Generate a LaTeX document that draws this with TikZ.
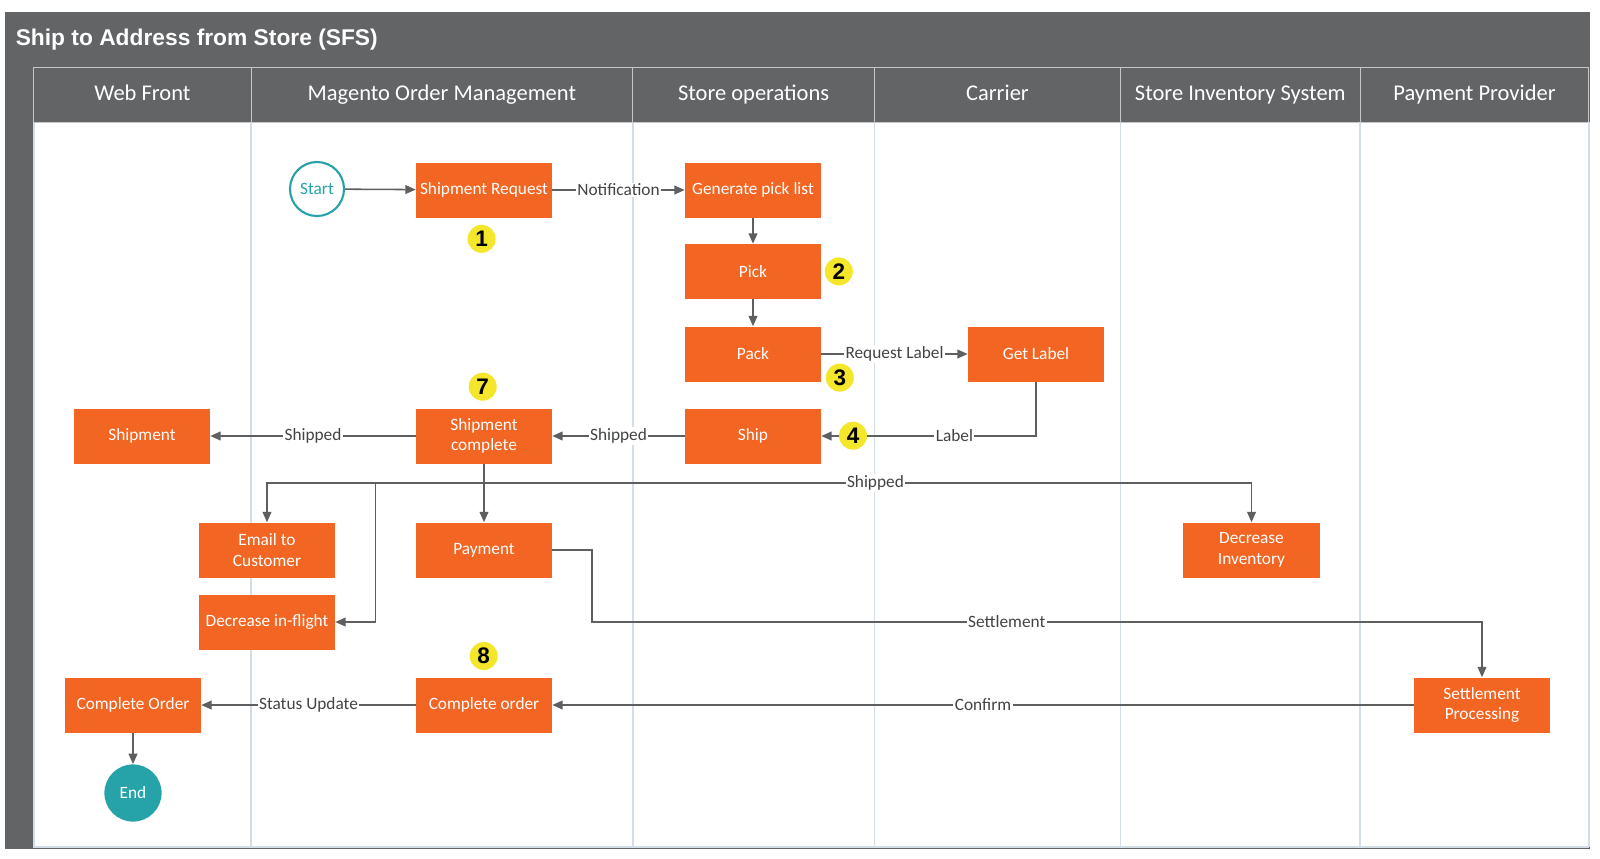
\documentclass[tikz,border=0pt]{standalone}
\usepackage{fontspec}
\setmainfont{Carlito}
\newfontfamily\titlefont{Liberation Sans}
\usetikzlibrary{arrows.meta}
\definecolor{frame}{HTML}{636466}
\definecolor{taskfill}{HTML}{F26522}
\definecolor{endteal}{HTML}{26A3A8}
\definecolor{badgefill}{HTML}{F4E62B}
\definecolor{wire}{HTML}{5E5F61}
\definecolor{lane}{HTML}{D3DEE8}
\begin{document}
\begin{tikzpicture}[x=0.025cm,y=-0.025cm,
  every node/.style={font=\fontsize{12.3}{14.5}\selectfont},
  task/.style={fill=taskfill,text=white,minimum width=3.4cm,minimum height=1.375cm,align=center,inner sep=2pt},
  flow/.style={draw=wire,line width=1.1pt,-{Triangle[length=2.6mm,width=2.2mm]}},
  lbl/.style={fill=white,text=wire!70!black,inner sep=1pt},
  badge/.style={circle,fill=badgefill,minimum size=0.7cm,inner sep=0pt,font=\titlefont\bfseries\fontsize{16}{16}\selectfont},
  lanehead/.style={text=white,anchor=base,font=\fontsize{16}{18}\selectfont}]
  \useasboundingbox (0,0) rectangle (1600,858);
  % pool and lanes
  \fill[frame] (5,12) rectangle (1590,849);
  \fill[white] (33.7,122.4) rectangle (1588.8,847);
  \node[anchor=base west,inner sep=0pt,text=white,font=\titlefont\bfseries\fontsize{16.2}{18}\selectfont] (title) at (15.5,45.5) {Ship to Address from Store (SFS)};
  \draw[lane,line width=1.2pt] (33.7,122.4) -- (33.7,847) -- (1588.8,847);
  \foreach \xa/\xb/\name [count=\i] in {33.7/251/Web Front, 251/632.7/Magento Order Management, 632.7/874.5/Store operations, 874.5/1120.4/Carrier, 1120.4/1360.2/Store Inventory System, 1360.2/1588.8/Payment Provider} {
    \draw[gray!45,line width=0.6pt] (\xa,67.3) rectangle (\xb,122.4);
    \draw[lane,line width=1.2pt] (\xb,122.4) -- (\xb,847);
    \node[lanehead] (head\i) at ({(\xa+\xb)/2},100) {\name};
  }
  % steps
  \node[circle,draw=endteal,line width=1.5pt,fill=white,text=endteal,minimum size=1.35cm,inner sep=0pt] (start) at (317,189) {Start};
  \node[task] (req) at (484,190) {Shipment Request};
  \node[task] (gen) at (753,190) {Generate pick list};
  \node[task] (pick) at (753,271.5) {Pick};
  \node[task] (pack) at (753,354) {Pack};
  \node[task] (getlbl) at (1036,354) {Get Label};
  \node[task] (ship) at (753,436) {Ship};
  \node[task] (done) at (484,436) {Shipment\\complete};
  \node[task] (shipment) at (142,436) {Shipment};
  \node[task] (email) at (267,550) {Email to\\Customer};
  \node[task] (pay) at (484,550) {Payment};
  \node[task] (inv) at (1251.5,550) {Decrease\\Inventory};
  \node[task] (flight) at (267,622) {Decrease in-flight};
  \node[task] (webdone) at (133,705) {Complete Order};
  \node[task] (order) at (484,705) {Complete order};
  \node[task] (settle) at (1482,705) {Settlement\\Processing};
  \node[circle,fill=endteal,text=white,minimum size=1.43cm,inner sep=0pt] (end) at (133,793) {End};
  % connectors
  \coordinate (fork) at (484,483);
  \coordinate (tap) at (375.5,483);
  \coordinate (bend) at (592,622);
  \draw[flow] (start) -- (req);
  \draw[flow] (req) -- node[lbl]{Notification} (gen);
  \draw[flow] (gen) -- (pick);
  \draw[flow] (pick) -- (pack);
  \draw[flow] (pack) -- node[lbl]{Request Label} (getlbl);
  \draw[flow] (getlbl) |- node[lbl,pos=0.69]{Label} (ship);
  \draw[flow] (ship) -- node[lbl]{Shipped} (done);
  \draw[flow] (done) -- node[lbl]{Shipped} (shipment);
  \draw[flow] (done) -- (fork) -| node[lbl,pos=0.255]{Shipped} (inv);
  \draw[flow] (fork) -| (email);
  \draw[flow] (fork) -- (pay);
  \draw[flow] (tap) |- (flight);
  \draw[flow] (pay) -| (bend) -| node[lbl,pos=0.233]{Settlement} (settle);
  \draw[flow] (settle) -- node[lbl]{Confirm} (order);
  \draw[flow] (order) -- node[lbl]{Status Update} (webdone);
  \draw[flow] (webdone) -- (end);
  % step numbers
  \node[badge] (b1) at (481.6,238.8) {1};
  \node[badge] (b2) at (838.8,271.4) {2};
  \node[badge] (b3) at (839.8,377.6) {3};
  \node[badge] (b4) at (853,435.7) {4};
  \node[badge] (b7) at (482.7,386.7) {7};
  \node[badge] (b8) at (483.7,656) {8};
\end{tikzpicture}
\end{document}
